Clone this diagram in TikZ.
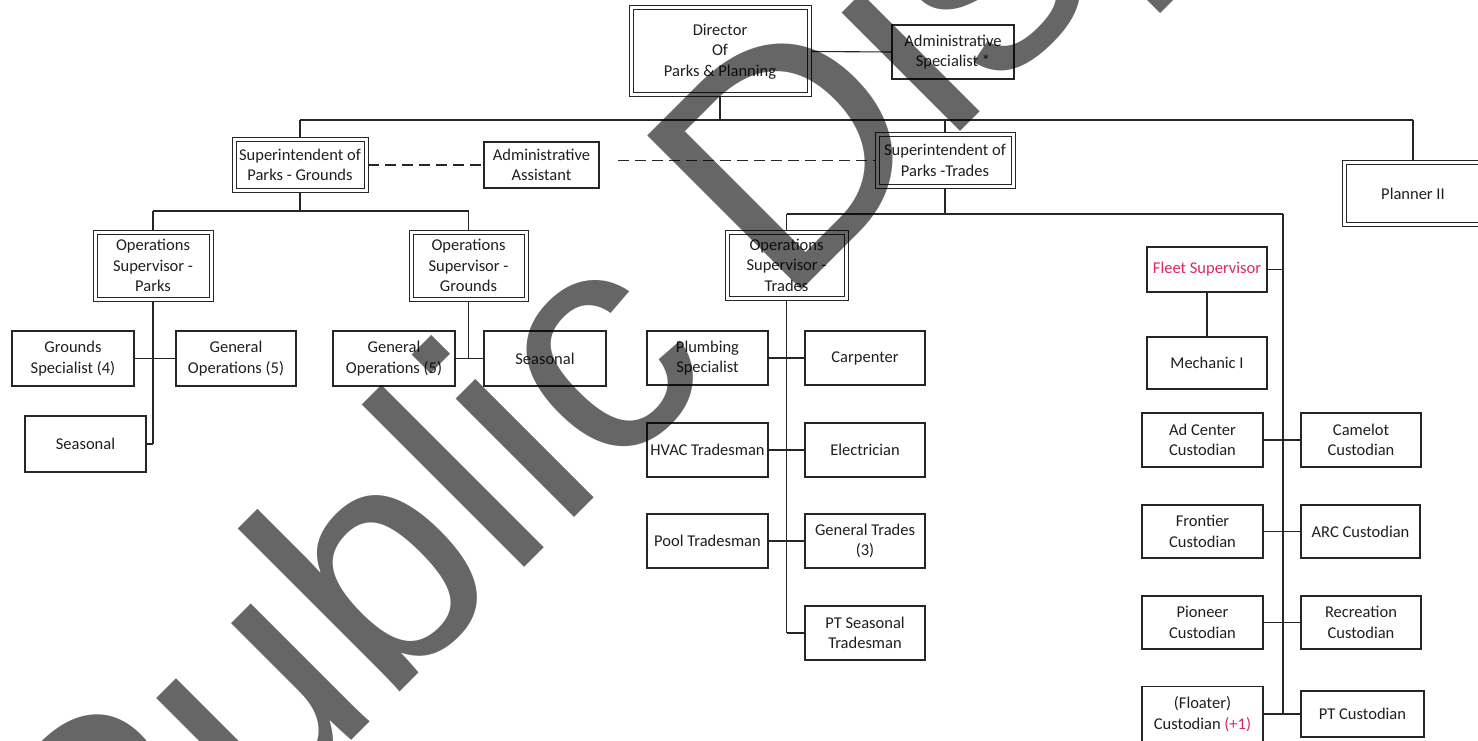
\documentclass[tikz,border=0pt]{standalone}
\usepackage{fontspec}
\setmainfont{Carlito}
\newfontfamily\wmfamily{Liberation Sans}
\newcommand\orgfont{\fontsize{16.5}{20.5}\selectfont}
\newcommand\wmfont{\wmfamily\fontsize{317}{317}\selectfont}
\definecolor{fleetred}{RGB}{222,40,95}
\tikzset{
  box/.style={draw=black!85, line width=1.1pt, fill=white, align=center,
    inner sep=0pt, outer sep=0pt, font=\orgfont, text=black!88},
  % inner box of a double frame; its anchors sit on the outer frame
  dbox/.style={box, line width=1pt, outer sep=4pt},
  frame/.style={draw=black!85, line width=1pt},
  sz/.style 2 args={minimum width=#1pt, minimum height=#2pt},
  link/.style={draw=black!85, line width=1.1pt},
  dashlink/.style={link, dash pattern=on 11pt off 6pt},
  stamp/.style={rotate=45, anchor=base west, inner sep=0pt, font=\wmfont,
    text=black, text opacity=0.6}
}
\begin{document}
\begin{tikzpicture}[x=1pt, y=-1pt]
\fill[white] (0,0) rectangle (1478,741);
\useasboundingbox (0,0) rectangle (1478,741);
\begin{scope}
\clip (0,0) rectangle (1478,741);

% top level
\node[dbox, sz={174}{83}] (dir) at (720,51.5) {Director\\Of\\Parks \& Planning};
\node[box, sz={122}{54}] (adminspec) at (953,52) {Administrative\\Specialist *};

% superintendents, assistant and planner
\node[dbox, sz={128}{46}] (suptG) at (300,165) {Superintendent of\\Parks - Grounds};
\node[box, sz={115}{46}] (adminasst) at (541.5,165) {Administrative\\Assistant};
\node[dbox, sz={132}{47}] (suptT) at (945,160.5) {Superintendent of\\Parks -Trades};
\node[dbox, sz={134}{57}] (planner) at (1413,193.5) {Planner II};

% operations supervisors
\node[dbox, sz={112}{63}] (opsP) at (153,265.5) {Operations\\Supervisor -\\Parks};
\node[dbox, sz={111}{63}] (opsG) at (468.5,265.5) {Operations\\Supervisor -\\Grounds};
\node[dbox, sz={115}{62}] (opsT) at (786.5,265) {Operations\\Supervisor -\\Trades};

% outer lines of the double frames
\foreach \n in {dir,suptG,suptT,planner,opsP,opsG,opsT}
  \draw[frame] (\n.north west) rectangle (\n.south east);

% parks and grounds staff
\node[box, sz={122}{55}] (gs) at (73,358.5) {Grounds\\Specialist (4)};
\node[box, sz={120}{55}] (go1) at (236,358.5) {General\\Operations (5)};
\node[box, sz={121}{56}] (sea1) at (85.5,444) {Seasonal};
\node[box, sz={122}{55}] (go2) at (394,358.5) {General\\Operations (5)};
\node[box, sz={122}{55}] (sea2) at (545,358.5) {Seasonal};

% trades staff
\node[box, sz={121}{54}] (plumb) at (707.5,358) {Plumbing\\Specialist};
\node[box, sz={120}{54}] (carp) at (865,358) {Carpenter};
\node[box, sz={121}{54}] (hvac) at (707.5,450) {HVAC Tradesman};
\node[box, sz={120}{54}] (elec) at (865,450) {Electrician};
\node[box, sz={121}{54}] (pool) at (707.5,541) {Pool Tradesman};
\node[box, sz={120}{54}] (gt) at (865,541) {General Trades\\(3)};
\node[box, sz={120}{54}] (ptst) at (865,633) {PT Seasonal\\Tradesman};

% fleet and custodians
\node[box, sz={120}{45}, text=fleetred] (fleet) at (1207,269.5) {Fleet Supervisor};
\node[box, sz={120}{52}] (mech) at (1207,363) {Mechanic I};
\node[box, sz={121}{54}] (adc) at (1202.5,440) {Ad Center\\Custodian};
\node[box, sz={120}{54}] (cam) at (1361,440) {Camelot\\Custodian};
\node[box, sz={121}{53}] (fron) at (1202.5,531.5) {Frontier\\Custodian};
\node[box, sz={119}{53}] (arc) at (1360.5,531.5) {ARC  Custodian};
\node[box, sz={121}{53}] (pion) at (1202.5,622.5) {Pioneer\\Custodian};
\node[box, sz={120}{53}] (rec) at (1361,622.5) {Recreation\\Custodian};
\node[box, sz={121}{55}] (float) at (1202.5,714) {(Floater)\\Custodian \textcolor{fleetred}{(+1)}};
\node[box, sz={123}{46}] (ptc) at (1362.5,714) {PT Custodian};

% director level connectors
\coordinate (busL) at (300,120);
\coordinate (busR) at (1413,120);
\draw[link] (dir.east) -- (adminspec.west);
\draw[link] (dir.south) -- (dir.south |- busL);
\draw[link] (busL) -- (busR);
\draw[link] (busL) -- (suptG.north);
\draw[link] (suptT.north |- busL) -- (suptT.north);
\draw[link] (busR) -- (planner.north);
\draw[dashlink] (suptG.east) -- (adminasst.west);
\draw[dashlink] ([xshift=19pt]adminasst.east |- suptT.west) -- (suptT.west);

% grounds branch
\coordinate (gbus) at (300,211);
\draw[link] (suptG.south) -- (gbus);
\draw[link] (opsP.north |- gbus) -- (opsG.north |- gbus);
\draw[link] (opsP.north |- gbus) -- (opsP.north);
\draw[link] (opsG.north |- gbus) -- (opsG.north);
\draw[link] (opsP.south) -- (opsP.south |- sea1.east);
\draw[link] (sea1.east) -- (opsP.south |- sea1.east);
\draw[link] (gs.east) -- (go1.west);
\draw[link] (opsG.south) -- (opsG.south |- go2.east);
\draw[link] (go2.east) -- (sea2.west);

% trades branch
\coordinate (tbus) at (945,214);
\coordinate (tbusR) at (1283,214);
\draw[link] (suptT.south) -- (tbus);
\draw[link] (opsT.north |- tbus) -- (tbusR);
\draw[link] (opsT.north |- tbus) -- (opsT.north);
\draw[link] (opsT.south) -- (opsT.south |- ptst.west);
\draw[link] (opsT.south |- ptst.west) -- (ptst.west);
\draw[link] (plumb.east) -- (carp.west);
\draw[link] (hvac.east) -- (elec.west);
\draw[link] (pool.east) -- (gt.west);

% fleet and custodian trunk
\draw[link] (tbusR) -- (tbusR |- ptc.west);
\draw[link] (fleet.east) -- (fleet.east -| tbusR);
\draw[link] (fleet.south) -- (mech.north);
\draw[link] (adc.east) -- (cam.west);
\draw[link] (fron.east) -- (arc.west);
\draw[link] (pion.east) -- (rec.west);
\draw[link] (float.east) -- (ptc.west);

% diagonal disclosure stamp
\node[stamp] (wm) at (111,981) {Public Disclosure Authorized};
\fill[black, fill opacity=0.6] (1160,13) -- ++(24,-24) -- ++(-24,-24) -- ++(-24,24) -- cycle;
\end{scope}
\end{tikzpicture}
\end{document}
